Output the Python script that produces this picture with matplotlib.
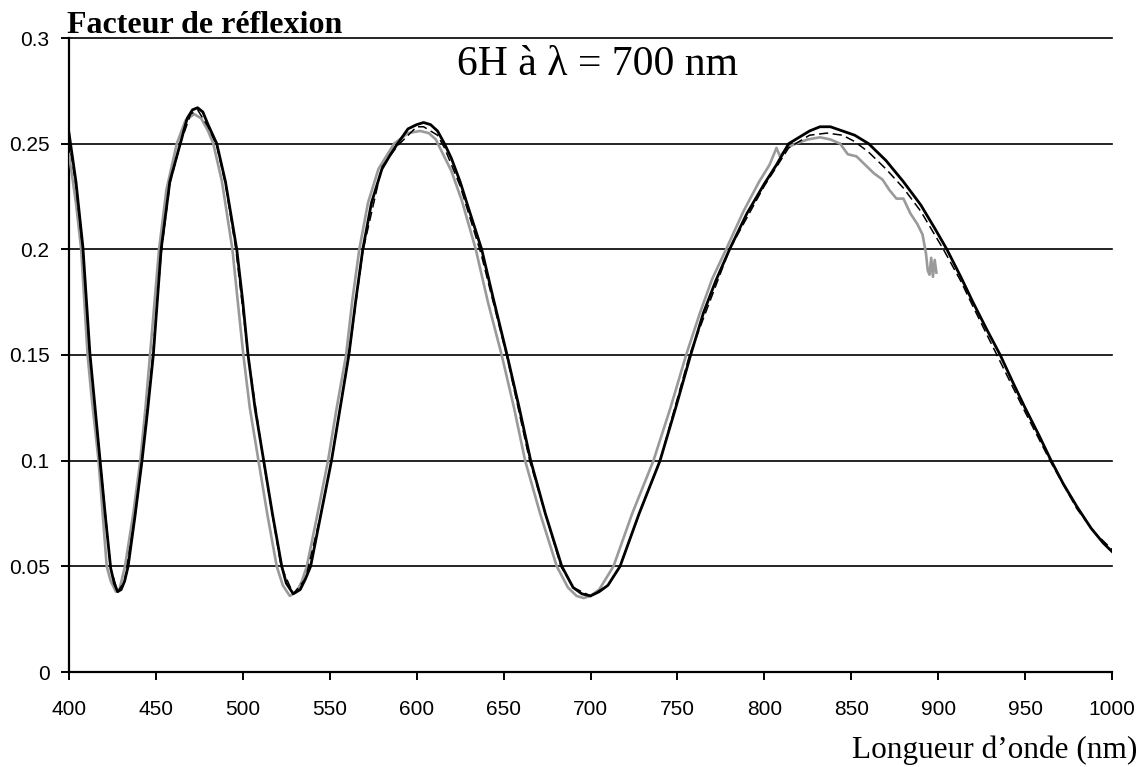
import matplotlib
matplotlib.use("Agg")
import matplotlib.pyplot as plt

# Facteur de réflexion - 6H à 700 nm
# three measured spectra, values read off the original figure

# black solid curve
wl_black = [400, 404, 408, 412, 415, 418, 421, 424, 426, 428, 430, 432, 434, 438, 442, 445,
            448.5, 453, 458, 464, 468, 471, 474, 477, 480, 485, 490, 496.5, 500, 503, 507,
            512, 517, 522.4, 525, 529, 533, 536, 539, 545, 551, 556, 561, 565, 569, 574, 580,
            585, 589, 595, 600, 604, 608, 612, 616, 620, 625, 630, 637.4, 644, 652, 659,
            665.6, 674, 683.5, 690, 695, 700, 705, 710, 717, 728, 740, 749, 757.6, 765, 772,
            780, 790, 800, 807, 814, 820, 826, 832, 838, 845, 852, 860, 870, 880, 890, 898,
            905, 913, 920, 928, 935.7, 943, 950, 958, 965, 972, 980, 988, 995, 1000]
r_black = [0.255, 0.232, 0.201, 0.151, 0.125, 0.099, 0.073, 0.049, 0.042, 0.038, 0.039, 0.043,
           0.050, 0.074, 0.100, 0.122, 0.150, 0.200, 0.232, 0.250, 0.262, 0.266, 0.267, 0.265,
           0.259, 0.250, 0.232, 0.200, 0.175, 0.150, 0.125, 0.100, 0.075, 0.050, 0.042, 0.037,
           0.039, 0.044, 0.050, 0.075, 0.100, 0.125, 0.150, 0.176, 0.200, 0.222, 0.238, 0.245,
           0.250, 0.257, 0.259, 0.260, 0.259, 0.256, 0.250, 0.243, 0.232, 0.219, 0.200, 0.177,
           0.150, 0.125, 0.100, 0.075, 0.050, 0.040, 0.037, 0.036, 0.038, 0.041, 0.050, 0.075,
           0.100, 0.125, 0.150, 0.170, 0.185, 0.200, 0.217, 0.231, 0.240, 0.250, 0.253, 0.256,
           0.258, 0.258, 0.256, 0.254, 0.250, 0.242, 0.232, 0.221, 0.210, 0.200, 0.187, 0.175,
           0.162, 0.150, 0.137, 0.125, 0.112, 0.100, 0.089, 0.078, 0.068, 0.061, 0.057]

# black dashed curve
wl_dash = [400, 404, 408, 412, 418, 424, 428, 432, 438, 442, 448, 453, 458, 464, 470, 474, 480,
           485, 490, 496, 503, 512, 522, 529, 536, 545, 551, 561, 569, 580, 589, 600, 604, 612,
           616, 625, 637, 652, 665, 683, 690, 700, 710, 717, 728, 740, 757, 780, 800, 814, 826,
           836, 845, 852, 860, 870, 880, 890, 903, 913, 920, 935, 950, 965, 980, 990, 1000]
r_dash = [0.252, 0.230, 0.199, 0.150, 0.099, 0.049, 0.038, 0.043, 0.074, 0.100, 0.148, 0.198,
          0.231, 0.250, 0.264, 0.266, 0.258, 0.249, 0.231, 0.200, 0.150, 0.099, 0.050, 0.037,
          0.044, 0.075, 0.100, 0.150, 0.199, 0.239, 0.249, 0.258, 0.258, 0.254, 0.248, 0.230,
          0.198, 0.149, 0.100, 0.050, 0.040, 0.036, 0.041, 0.050, 0.075, 0.100, 0.150, 0.200,
          0.230, 0.248, 0.254, 0.255, 0.254, 0.251, 0.246, 0.238, 0.229, 0.218, 0.200, 0.185,
          0.173, 0.148, 0.123, 0.099, 0.077, 0.066, 0.058]

# grey curve (stops near 900 nm)
wl_grey = [400, 404, 407, 410.7, 413, 417, 421.7, 424, 427, 429, 432.2, 437, 441, 444, 446.6,
           451.8, 456, 462, 467, 472, 476, 480, 483, 488, 494, 497, 500.3, 504, 509, 514, 519.5,
           523, 527, 531, 534, 536.8, 543, 549, 554, 559.4, 563, 567, 572, 578, 587, 595, 602,
           607, 611, 614, 620, 626, 634, 641, 648.9, 656, 662.4, 671, 680.6, 687, 692, 696, 700,
           705, 713.2, 724, 736.2, 746, 755, 763, 770, 778, 788, 797, 803, 807, 809, 813, 818,
           825, 832, 838, 843.6, 848, 853, 858, 863, 868, 872, 876, 880, 884, 888, 891, 893,
           894, 895, 896, 897, 898, 899]
r_grey = [0.245, 0.222, 0.200, 0.150, 0.130, 0.100, 0.050, 0.043, 0.038, 0.039, 0.050, 0.075,
          0.100, 0.125, 0.150, 0.200, 0.228, 0.250, 0.261, 0.264, 0.262, 0.256, 0.250, 0.232,
          0.200, 0.176, 0.150, 0.125, 0.100, 0.075, 0.050, 0.041, 0.036, 0.038, 0.043, 0.050,
          0.075, 0.100, 0.125, 0.150, 0.176, 0.200, 0.222, 0.238, 0.250, 0.255, 0.256, 0.255,
          0.252, 0.247, 0.237, 0.223, 0.200, 0.175, 0.150, 0.125, 0.100, 0.075, 0.050, 0.040,
          0.036, 0.035, 0.036, 0.039, 0.050, 0.075, 0.100, 0.125, 0.150, 0.170, 0.186, 0.200,
          0.218, 0.232, 0.240, 0.248, 0.244, 0.248, 0.250, 0.252, 0.253, 0.252, 0.250, 0.245,
          0.244, 0.240, 0.236, 0.233, 0.228, 0.224, 0.224, 0.217, 0.212, 0.207, 0.198, 0.190,
          0.188, 0.196, 0.187, 0.195, 0.189]

x_ticks = [400, 450, 500, 550, 600, 650, 700, 750, 800, 850, 900, 950, 1000]
y_ticks = [0, 0.05, 0.1, 0.15, 0.2, 0.25, 0.3]
y_tick_labels = ["0", "0.05", "0.1", "0.15", "0.2", "0.25", "0.3"]

fig = plt.figure(figsize=(11.47, 7.67), dpi=100)
ax = fig.add_axes([69 / 1147, 95 / 767, 1043 / 1147, 634 / 767])

ax.plot(wl_grey, r_grey, color="#9a9a9a", lw=1.9, zorder=3)
ax.plot(wl_dash, r_dash, color="black", lw=1.1, ls=(0, (6, 3)), zorder=4)
ax.plot(wl_black, r_black, color="black", lw=2.0, zorder=5)

ax.set_xlim(400, 1000)
ax.set_ylim(0, 0.3)
ax.set_xticks(x_ticks)
ax.set_yticks(y_ticks)
ax.set_yticklabels(y_tick_labels)
for y in y_ticks[1:]:
    ax.axhline(y, color="black", lw=1.2, zorder=1, clip_on=False)

for s in ["top", "right"]:
    ax.spines[s].set_visible(False)
ax.spines["left"].set_linewidth(1.6)
ax.spines["bottom"].set_linewidth(1.6)
ax.tick_params(axis="both", direction="out", length=6, width=1.4, colors="black")
ax.tick_params(axis="x", pad=14)
ax.tick_params(axis="y", pad=8)
for lab in ax.get_xticklabels() + ax.get_yticklabels():
    lab.set_fontfamily("Liberation Sans")
    lab.set_fontsize(15)

ax.text(0.507, 0.941, "6H à λ = 700 nm", transform=ax.transAxes, ha="center",
        va="baseline", fontsize=30, family="Liberation Serif")
fig.text(67 / 1147, (767 - 33) / 767, "Facteur de réflexion", ha="left", va="baseline",
         fontsize=23, fontweight="bold", family="Liberation Serif")
fig.text(1137 / 1147, (767 - 758) / 767, "Longueur d’onde (nm)", ha="right",
         va="baseline", fontsize=22.5, family="Liberation Serif")

fig.savefig("out.png", dpi=100)
